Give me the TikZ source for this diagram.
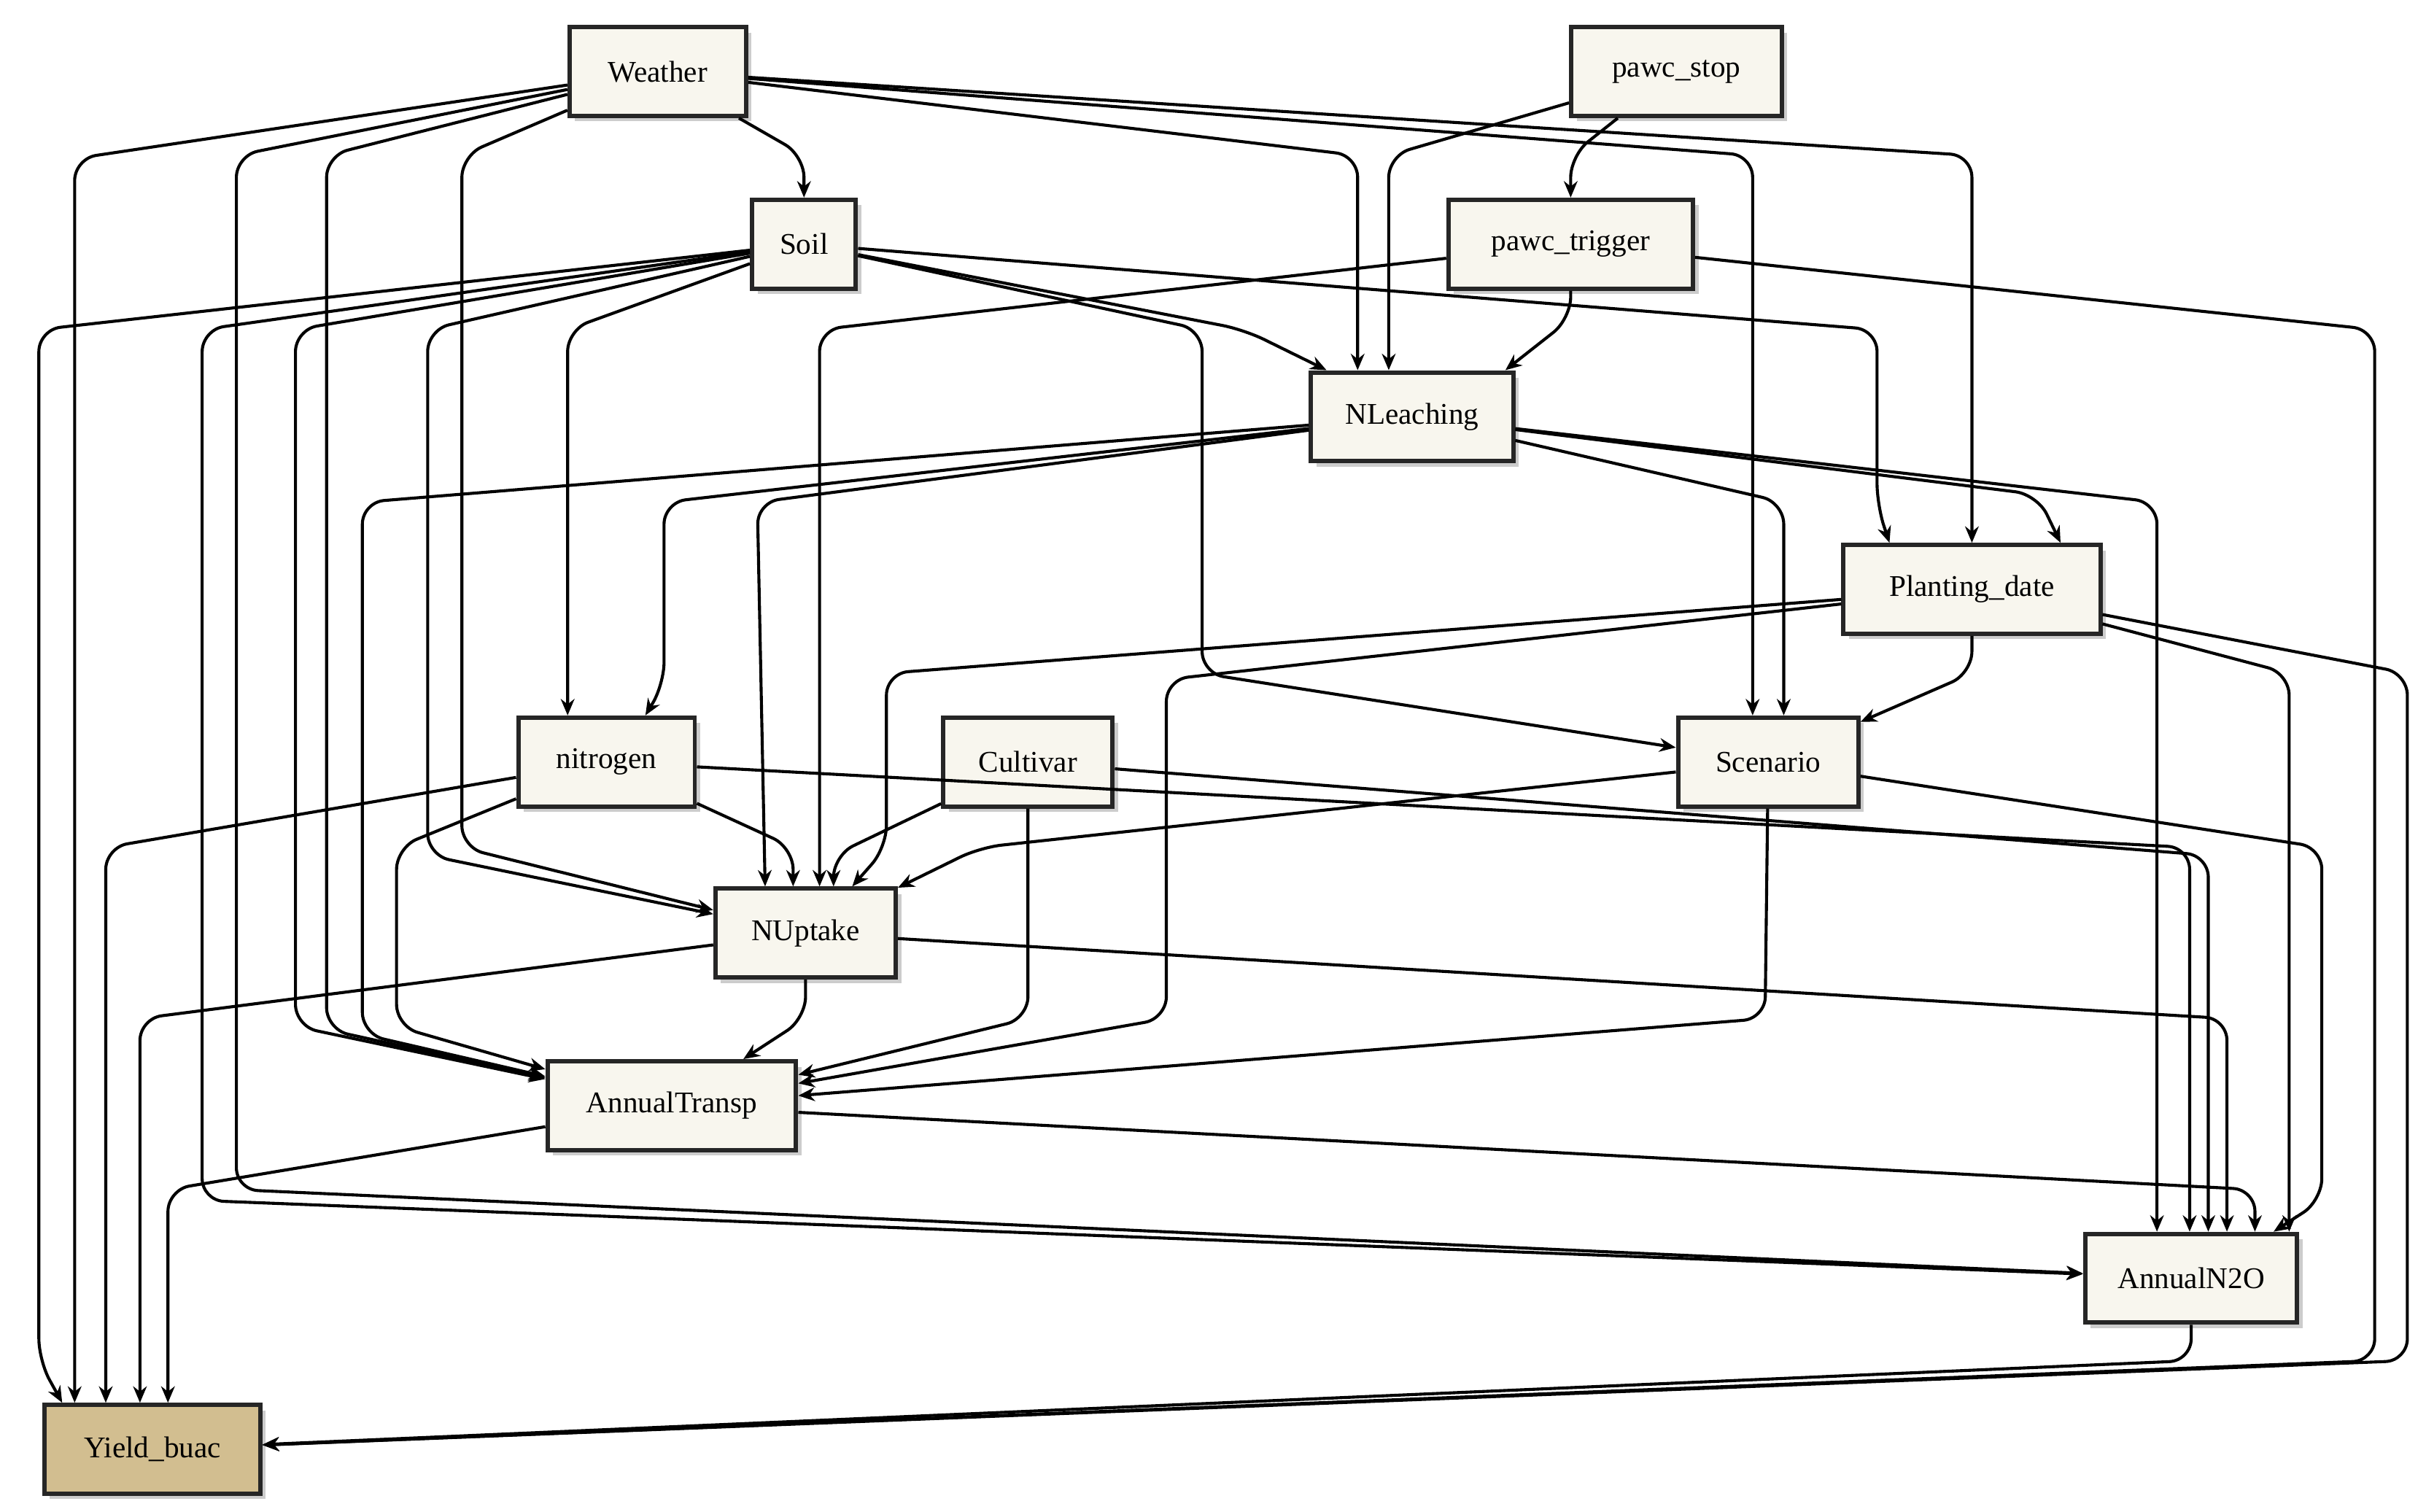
\documentclass[tikz,border=0pt]{standalone}
\usepackage{fontspec}
\setmainfont{Liberation Serif}
\usetikzlibrary{shadows,arrows.meta}
\definecolor{cream}{HTML}{F8F6EE}
\definecolor{tan}{HTML}{D2BE90}
\tikzset{
  box/.style={draw=black!85,line width=1.6pt,fill=cream,minimum height=32.5pt,inner sep=0pt,font=\fontsize{11}{13}\selectfont,drop shadow={shadow xshift=2pt,shadow yshift=-2pt,fill=black!40}},
  edge/.style={draw=black,line width=1.1pt,rounded corners=8pt,-{Stealth[length=6pt,width=5pt]}}
}
\newcommand{\ed}[3]{\draw[edge] (#1) -- #2 -- (#3);}
\newcommand{\ev}[4]{\draw[edge] (#1) -- #2 -- (#3.north -| #4,0);}
\begin{document}
\begin{tikzpicture}[x=0.02cm,y=-0.02cm]
\useasboundingbox (0,0) rectangle (1560,972);
\node[box,minimum width=64.6pt] (W) at (423,46) {Weather};
\node[box,minimum width=77pt] (PS) at (1078,46) {pawc\_stop};
\node[box,minimum width=38pt] (S) at (517,157) {Soil};
\node[box,minimum width=89.5pt] (PT) at (1010,157) {pawc\_trigger};
\node[box,minimum width=74pt] (NL) at (908,268) {NLeaching};
\node[box,minimum width=94pt] (PD) at (1268,379) {Planting\_date};
\node[box,minimum width=64.6pt] (N) at (390,490) {nitrogen};
\node[box,minimum width=62pt] (C) at (661,490) {Cultivar};
\node[box,minimum width=66pt] (SC) at (1137,490) {Scenario};
\node[box,minimum width=66pt] (NU) at (518,600) {NUptake};
\node[box,minimum width=91pt] (AT) at (432,711) {AnnualTransp};
\node[box,minimum width=77.6pt] (AN) at (1409,822) {AnnualN2O};
\node[box,minimum width=79pt,fill=tan] (Y) at (98,932) {Yield\_buac};
% Weather
\ev{W}{(48,102)}{Y}{48}
\ed{W}{(152,100) -- (152,765)}{AN}
\ed{W}{(210,100) -- (210,662)}{AT}
\ed{W}{(297,100) -- (297,545)}{NU}
\ed{W}{(517,100)}{S}
\ev{W}{(873,100)}{NL}{873}
\ev{W}{(1127,100)}{SC}{1127}
\ev{W}{(1268,100)}{PD}{1268}
% pawc_stop
\ev{PS}{(893,100)}{NL}{893}
\ev{PS}{(1010,100)}{PT}{1010}
% Soil
\ev{S}{(25,212) -- (25,875)}{Y}{40}
\ed{S}{(130,212) -- (130,772)}{AN}
\ed{S}{(190,212) -- (190,660)}{AT}
\ed{S}{(275,212) -- (275,550)}{NU}
\ev{S}{(365,212)}{N}{365}
\ev{S}{(800,212)}{NL}{853}
\ed{S}{(773,212) -- (773,433)}{SC}
\ev{S}{(1207,212) -- (1207,325)}{PD}{1215}
% pawc_trigger
\ev{PT}{(527,212)}{NU}{527}
\ev{PT}{(1010,205)}{NL}{968}
\ed{PT}{(1527,212) -- (1527,875)}{Y}
% NLeaching
\ed{NL}{(233,323) -- (233,665)}{AT}
\ev{NL}{(427,323) -- (427,440)}{N}{415}
\ev{NL}{(487,323)}{NU}{492}
\ev{NL}{(1147,323)}{SC}{1147}
\ev{NL}{(1310,318)}{PD}{1325}
\ev{NL}{(1387,323)}{AN}{1387}
% Planting_date
\ev{PD}{(570,433) -- (570,545)}{NU}{548}
\ed{PD}{(750,437) -- (750,655)}{AT}
\ed{PD}{(1268,433)}{SC}
\ev{PD}{(1472,433)}{AN}{1472}
\ed{PD}{(1548,433) -- (1548,875)}{Y}
% nitrogen
\ev{N}{(68,545)}{Y}{68}
\ed{N}{(255,545) -- (255,660)}{AT}
\ev{N}{(510,545)}{NU}{510}
\ev{N}{(1408,545)}{AN}{1408}
% Cultivar
\ev{C}{(536,550)}{NU}{536}
\ed{C}{(661,655)}{AT}
\ev{C}{(1420,550)}{AN}{1420}
% Scenario
\ed{SC}{(630,545)}{NU}
\ed{SC}{(1135,655)}{AT}
\ev{SC}{(1493,545) -- (1493,772)}{AN}{1462}
% NUptake
\ev{NU}{(90,655)}{Y}{90}
\ed{NU}{(518,655)}{AT}
\ev{NU}{(1432,655)}{AN}{1432}
% AnnualTransp
\ev{AT}{(108,765)}{Y}{108}
\ev{AT}{(1450,765)}{AN}{1450}
% AnnualN2O
\ed{AN}{(1409,875)}{Y}
\end{tikzpicture}
\end{document}
